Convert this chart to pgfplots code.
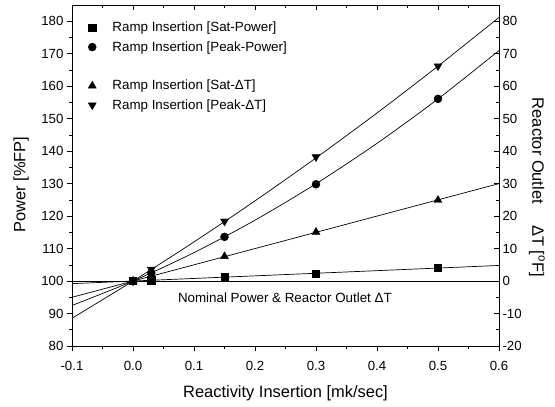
\documentclass[border=0pt]{standalone}
\usepackage{pgfplots}
\pgfplotsset{compat=1.18}
\usepackage{fontspec}
\setmainfont{Liberation Sans}
\begin{document}
\begin{tikzpicture}
\useasboundingbox (-72bp,-61bp) rectangle (483bp,346bp);
\pgfplotsset{
 common/.style={
  scale only axis, width=427bp, height=341bp,
  at={(0,0)}, anchor=south west,
  xmin=-0.1, xmax=0.6,
  xtick={-0.1,0,0.1,0.2,0.3,0.4,0.5,0.6},
  minor x tick num=1, minor y tick num=1,
  /pgf/number format/assume math mode=true,
  tick label style={font=\fontsize{13.3}{16}\selectfont},
  label style={font=\fontsize{16.5}{19}\selectfont},
  major tick length=5bp, minor tick length=3bp,
  every tick/.style={black, line width=0.6bp},
  axis line style={line width=0.8bp},
 }
}
\begin{axis}[common, axis x line*=bottom, axis y line*=left, tick align=outside,
 ymin=80, ymax=185, ytick={80,90,100,110,120,130,140,150,160,170,180},
 xticklabel style={yshift=-7bp, /pgf/number format/.cd, fixed, fixed zerofill, precision=1},
 xlabel={Reactivity Insertion [mk/sec]},
 ylabel={Power [\%FP]},
 xlabel style={at={(axis description cs:0.5,-0.138)}, anchor=center},
 ylabel style={at={(axis description cs:-0.119,0.4736)}, anchor=center, rotate=0},
 legend image code/.code={\draw[#1] plot coordinates {(0bp,0bp)}; \path (-4.5bp,0bp) (18bp,0bp);},
 legend style={draw=none, fill=none, at={(axis description cs:0.029,0.962)}, anchor=north west,
   font=\fontsize{13.4}{16}\selectfont, row sep=4.2bp},
 legend cell align=left,
]
% markers (data points)
\addplot[only marks, mark=square*, mark size=3.6bp, black] coordinates {
 (0,100) (0.03,100.25) (0.15,101.2) (0.3,102.3) (0.5,104.0)};
\addlegendentry{Ramp Insertion [Sat-Power]}
\addplot[only marks, mark=*, mark size=4bp, black] coordinates {
 (0,100) (0.03,102.5) (0.15,113.6) (0.3,129.8) (0.5,156.1)};
\addlegendentry{Ramp Insertion [Peak-Power]}
\addlegendimage{empty legend}
\addlegendentry{\phantom{[}}
\addplot[only marks, mark=triangle*, mark size=4.6bp, black] coordinates {
 (0,100) (0.03,101.5) (0.15,107.6) (0.3,115.1) (0.5,124.9)};
\addlegendentry{Ramp Insertion [Sat-ΔT]}
\addplot[only marks, mark=triangle*, mark size=4.6bp, mark options={rotate=180}, black] coordinates {
 (0,100) (0.03,103.6) (0.15,118.4) (0.3,138.2) (0.5,166.2)};
\addlegendentry{Ramp Insertion [Peak-ΔT]}
% fitted lines
\addplot[black, line width=0.7bp, forget plot] coordinates {(-0.1,99.2) (0.6,104.8)};
\addplot[black, line width=0.7bp, smooth, forget plot] coordinates {
 (-0.1,92.48) (0,100) (0.1,108.76) (0.2,118.74) (0.3,129.96) (0.4,142.40) (0.5,156.08) (0.6,170.98)};
\addplot[black, line width=0.7bp, forget plot] coordinates {(-0.1,95) (0.6,130)};
\addplot[black, line width=0.7bp, smooth, forget plot] coordinates {
 (-0.1,88.55) (0,100) (0.1,112.05) (0.2,124.69) (0.3,137.92) (0.4,151.75) (0.5,166.18) (0.6,181.19)};
% nominal line
\addplot[black, line width=0.7bp, forget plot] coordinates {(-0.1,100) (0.6,100)};
\node[font=\fontsize{13.4}{16}\selectfont] at (axis cs:0.249,94.8) {Nominal Power \& Reactor Outlet ΔT};
\end{axis}
\begin{axis}[common, axis x line*=top, axis y line*=right, tick align=inside,
 ymin=-20, ymax=85, ytick={-20,-10,0,10,20,30,40,50,60,70,80},
 xticklabels={},
 ylabel={Reactor Outlet\hspace{1.3em}ΔT [\textsuperscript{o}F]},
 ylabel style={at={(axis description cs:1.089,0.465)}, anchor=center, rotate=-180},
]
\end{axis}
\end{tikzpicture}
\end{document}
